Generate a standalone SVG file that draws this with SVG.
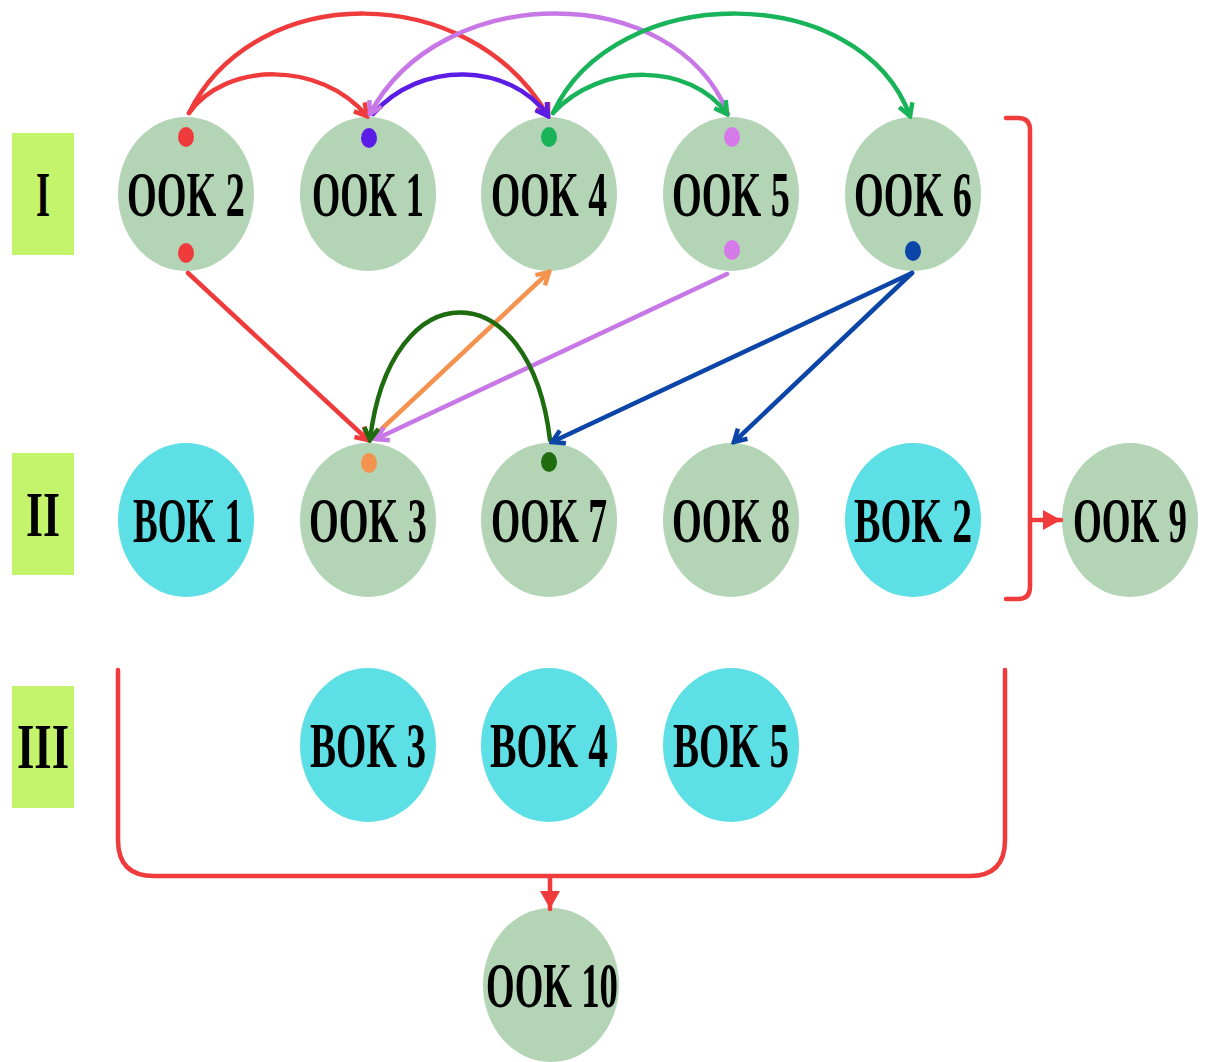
<svg xmlns="http://www.w3.org/2000/svg" width="1207" height="1062" viewBox="0 0 1207 1062">
<style>
.ook{fill:#b3d4b5}
.bok{fill:#5ddfe6}
.lab{fill:#c3f46c}
.t{font-family:"Liberation Serif","Times New Roman",serif;font-size:64px;font-weight:bold;fill:#000;text-anchor:middle}
.c{fill:none;stroke-width:4.5;stroke-linecap:round}
</style>
<defs>
<marker id="aRed" markerUnits="userSpaceOnUse" markerWidth="18" markerHeight="18" viewBox="0 0 18 18" refX="15" refY="9" orient="auto"><path d="M3,2 L15,9 L3,16" fill="none" stroke="#ef3b3b" stroke-width="4.5"/></marker>
<marker id="aBv" markerUnits="userSpaceOnUse" markerWidth="18" markerHeight="18" viewBox="0 0 18 18" refX="15" refY="9" orient="auto"><path d="M3,2 L15,9 L3,16" fill="none" stroke="#5b1de6" stroke-width="4.5"/></marker>
<marker id="aVi" markerUnits="userSpaceOnUse" markerWidth="18" markerHeight="18" viewBox="0 0 18 18" refX="15" refY="9" orient="auto"><path d="M3,2 L15,9 L3,16" fill="none" stroke="#c878e6" stroke-width="4.5"/></marker>
<marker id="aGr" markerUnits="userSpaceOnUse" markerWidth="18" markerHeight="18" viewBox="0 0 18 18" refX="15" refY="9" orient="auto"><path d="M3,2 L15,9 L3,16" fill="none" stroke="#19b35a" stroke-width="4.5"/></marker>
<marker id="aOr" markerUnits="userSpaceOnUse" markerWidth="18" markerHeight="18" viewBox="0 0 18 18" refX="15" refY="9" orient="auto"><path d="M3,2 L15,9 L3,16" fill="none" stroke="#f4924f" stroke-width="4.5"/></marker>
<marker id="aDg" markerUnits="userSpaceOnUse" markerWidth="18" markerHeight="18" viewBox="0 0 18 18" refX="15" refY="9" orient="auto"><path d="M3,2 L15,9 L3,16" fill="none" stroke="#1e6b10" stroke-width="4.5"/></marker>
<marker id="aBl" markerUnits="userSpaceOnUse" markerWidth="18" markerHeight="18" viewBox="0 0 18 18" refX="15" refY="9" orient="auto"><path d="M3,2 L15,9 L3,16" fill="none" stroke="#0b45a8" stroke-width="4.5"/></marker>
<marker id="aFill" markerUnits="userSpaceOnUse" markerWidth="22" markerHeight="22" viewBox="0 0 22 22" refX="20" refY="11" orient="auto"><path d="M2,1 L20,11 L2,21 Z" fill="#ef3b3b"/></marker>
</defs>

<g id="labels">
<g id="label-I"><rect class="lab" x="12" y="133" width="62" height="122"/><text class="t" x="43" y="216" textLength="14" lengthAdjust="spacingAndGlyphs">I</text></g>
<g id="label-II"><rect class="lab" x="12" y="453" width="62" height="122"/><text class="t" x="43" y="536" textLength="34" lengthAdjust="spacingAndGlyphs">II</text></g>
<g id="label-III"><rect class="lab" x="12" y="686" width="62" height="122"/><text class="t" x="43" y="768" textLength="52" lengthAdjust="spacingAndGlyphs">III</text></g>
</g>

<g id="OOK2"><ellipse class="ook" cx="186" cy="194" rx="68" ry="77"/><text class="t" x="186" y="216" textLength="118" lengthAdjust="spacingAndGlyphs">OOK 2</text></g>
<g id="OOK1"><ellipse class="ook" cx="368" cy="194" rx="68" ry="77"/><text class="t" x="368" y="216" textLength="112" lengthAdjust="spacingAndGlyphs">OOK 1</text></g>
<g id="OOK4"><ellipse class="ook" cx="549" cy="194" rx="68" ry="77"/><text class="t" x="549" y="216" textLength="116" lengthAdjust="spacingAndGlyphs">OOK 4</text></g>
<g id="OOK5"><ellipse class="ook" cx="731" cy="194" rx="68" ry="77"/><text class="t" x="731" y="216" textLength="118" lengthAdjust="spacingAndGlyphs">OOK 5</text></g>
<g id="OOK6"><ellipse class="ook" cx="913" cy="194" rx="68" ry="77"/><text class="t" x="913" y="216" textLength="118" lengthAdjust="spacingAndGlyphs">OOK 6</text></g>

<g id="BOK1"><ellipse class="bok" cx="186" cy="520" rx="68" ry="77"/><text class="t" x="188" y="542" textLength="110" lengthAdjust="spacingAndGlyphs">BOK 1</text></g>
<g id="OOK3"><ellipse class="ook" cx="368" cy="520" rx="68" ry="77"/><text class="t" x="368" y="542" textLength="118" lengthAdjust="spacingAndGlyphs">OOK 3</text></g>
<g id="OOK7"><ellipse class="ook" cx="549" cy="520" rx="68" ry="77"/><text class="t" x="549" y="542" textLength="116" lengthAdjust="spacingAndGlyphs">OOK 7</text></g>
<g id="OOK8"><ellipse class="ook" cx="731" cy="520" rx="68" ry="77"/><text class="t" x="731" y="542" textLength="118" lengthAdjust="spacingAndGlyphs">OOK 8</text></g>
<g id="BOK2"><ellipse class="bok" cx="913" cy="520" rx="68" ry="77"/><text class="t" x="913" y="542" textLength="118" lengthAdjust="spacingAndGlyphs">BOK 2</text></g>
<g id="OOK9"><ellipse class="ook" cx="1130" cy="520" rx="68" ry="77"/><text class="t" x="1130" y="542" textLength="114" lengthAdjust="spacingAndGlyphs">OOK 9</text></g>

<g id="BOK3"><ellipse class="bok" cx="368" cy="745" rx="68" ry="77"/><text class="t" x="368" y="767" textLength="116" lengthAdjust="spacingAndGlyphs">BOK 3</text></g>
<g id="BOK4"><ellipse class="bok" cx="549" cy="745" rx="68" ry="77"/><text class="t" x="549" y="767" textLength="118" lengthAdjust="spacingAndGlyphs">BOK 4</text></g>
<g id="BOK5"><ellipse class="bok" cx="731" cy="745" rx="68" ry="77"/><text class="t" x="731" y="767" textLength="116" lengthAdjust="spacingAndGlyphs">BOK 5</text></g>

<g id="OOK10"><ellipse class="ook" cx="551" cy="985" rx="68" ry="77"/><text class="t" x="552" y="1007" textLength="132" lengthAdjust="spacingAndGlyphs">OOK 10</text></g>

<g id="dots">
<ellipse cx="186" cy="137" rx="8" ry="10" fill="#ef3b3b"/>
<ellipse cx="186" cy="253" rx="8" ry="10" fill="#ef3b3b"/>
<ellipse cx="369" cy="138" rx="8" ry="10" fill="#5b1de6"/>
<ellipse cx="549" cy="137" rx="8" ry="10" fill="#19b35a"/>
<ellipse cx="732" cy="137" rx="8" ry="10" fill="#d57ae8"/>
<ellipse cx="732" cy="250" rx="8" ry="10" fill="#d57ae8"/>
<ellipse cx="913" cy="251" rx="8" ry="10" fill="#0b45a8"/>
<ellipse cx="369" cy="463" rx="8" ry="10" fill="#f4924f"/>
<ellipse cx="549" cy="462" rx="8" ry="10" fill="#1e6b10"/>
</g>

<g id="connectors">
<path class="c" stroke="#ef3b3b" d="M189,113 C255,-20 470,-20 548,116" marker-end="url(#aRed)"/>
<path class="c" stroke="#ef3b3b" d="M189,113 C225,62 320,60 367,116" marker-end="url(#aRed)"/>
<path class="c" stroke="#ef3b3b" d="M188,273 L368,440" marker-end="url(#aRed)"/>
<path class="c" stroke="#5b1de6" d="M373,114 C420,60 510,62 548,116" marker-end="url(#aBv)"/>
<path class="c" stroke="#c878e6" d="M728,114 C675,-20 440,-20 370,114" marker-end="url(#aVi)"/>
<path class="c" stroke="#19b35a" d="M553,113 C615,-20 860,-20 910,116" marker-end="url(#aGr)"/>
<path class="c" stroke="#19b35a" d="M553,113 C600,62 690,62 727,114" marker-end="url(#aGr)"/>
<path class="c" stroke="#f4924f" d="M372,438 L549,272" marker-end="url(#aOr)"/>
<path class="c" stroke="#c878e6" d="M727,274 L376,439" marker-end="url(#aVi)"/>
<path class="c" stroke="#1e6b10" d="M550,440 C530,270 390,270 370,440" marker-end="url(#aDg)"/>
<path class="c" stroke="#0b45a8" d="M912,273 L552,442" marker-end="url(#aBl)"/>
<path class="c" stroke="#0b45a8" d="M912,273 L734,442" marker-end="url(#aBl)"/>
<path class="c" stroke="#ef3b3b" d="M1006,118 L1018,118 Q1030,118 1030,130 L1030,587 Q1030,599 1018,599 L1006,599"/>
<path class="c" stroke="#ef3b3b" d="M1030,520 L1061,520" marker-end="url(#aFill)"/>
<path class="c" stroke="#ef3b3b" d="M118,670 L118,840 Q118,876 154,876 L970,876 Q1005,876 1005,840 L1005,670"/>
<path class="c" stroke="#ef3b3b" d="M550,876 L550,909" marker-end="url(#aFill)"/>
</g>
</svg>
